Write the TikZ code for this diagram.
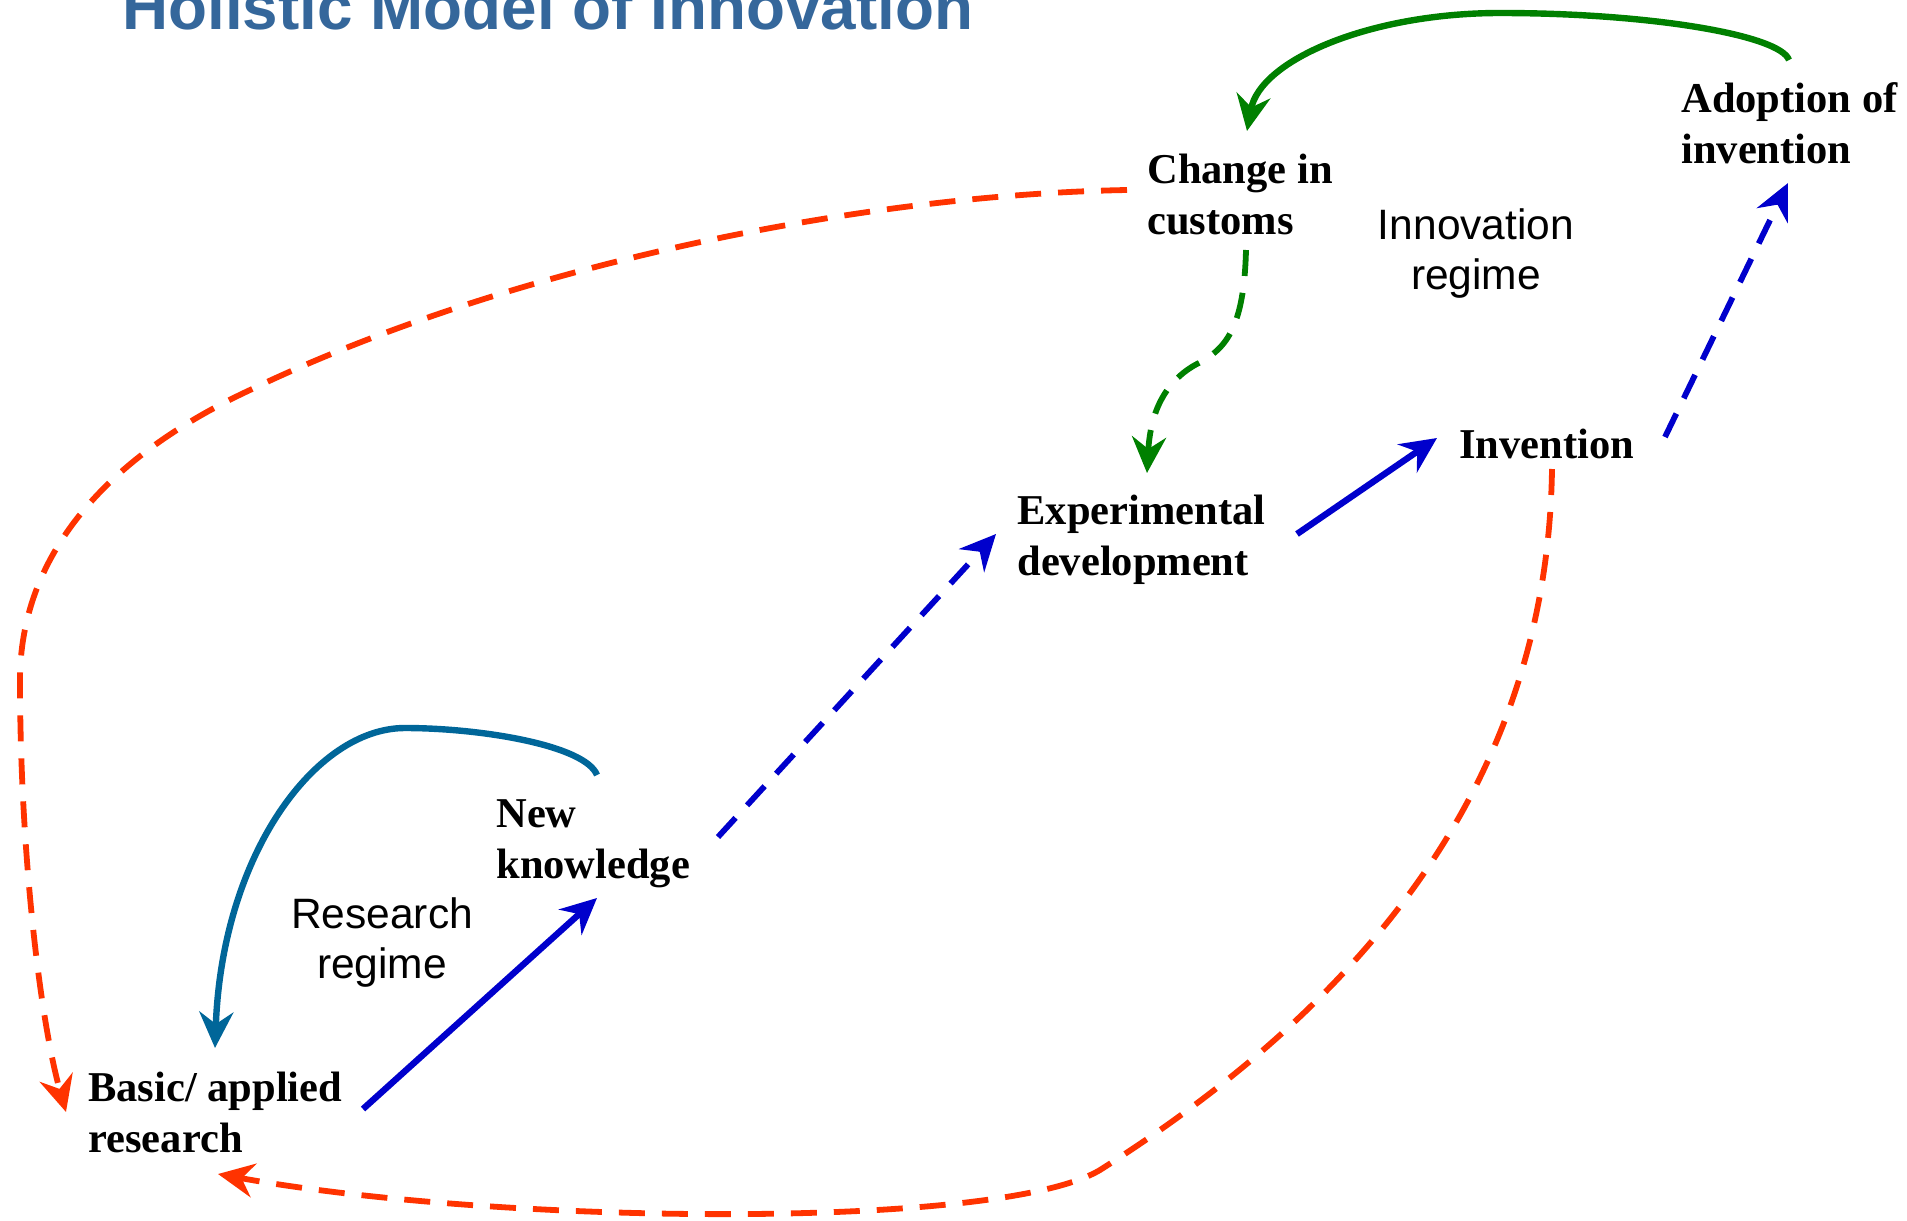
\documentclass[tikz,border=0pt]{standalone}
\usepackage{fontspec}
\setmainfont{Liberation Serif}
\newfontfamily\sansf{Liberation Sans}
\usetikzlibrary{arrows.meta}
\definecolor{titleblue}{RGB}{53,103,155}
\definecolor{arrblue}{RGB}{0,0,204}
\definecolor{arrgreen}{RGB}{0,128,0}
\definecolor{arrteal}{RGB}{0,102,153}
\definecolor{arrred}{RGB}{255,51,0}
\begin{document}
\begin{tikzpicture}[x=0.5pt,y=-0.5pt,
  lbl/.style={inner sep=0pt, anchor=base west, align=left,
    font=\bfseries\fontsize{21.25}{25.5}\selectfont},
  regimelbl/.style={inner sep=0pt, anchor=base, align=center,
    font=\sansf\fontsize{21.25}{24.75}\selectfont},
  tipstyle/.style={-{Stealth[length=18pt,width=17pt,inset=6pt]}},
  solidarr/.style={tipstyle, line width=3.2pt},
  dasharr/.style={tipstyle, line width=2.9pt, dash pattern=on 13pt off 8.5pt},
]
\useasboundingbox (0,0) rectangle (1907,1221);

\node[inner sep=0pt, anchor=base west, text=titleblue,
  font=\sansf\bfseries\fontsize{31.9}{36}\selectfont] (title) at (122,29) {Holistic Model of Innovation};

% multi-line nodes: base anchor = baseline of the last line
\node[lbl] (chg) at (1147,234) {Change in\\customs};
\node[lbl] (adopt) at (1681,163) {Adoption of\\invention};
\node[lbl] (inv) at (1459,458) {Invention};
\node[lbl] (exp) at (1017,575) {Experimental\\development};
\node[lbl] (newk) at (496,878) {New\\knowledge};
\node[lbl] (basic) at (88,1152) {Basic/ applied\\research};
\node[regimelbl] (innreg) at (1476,289) {Innovation\\regime};
\node[regimelbl] (resreg) at (382,978) {Research\\regime};

% blue chain
\draw[solidarr, arrblue] ([shift={(275,-43)}]basic.base west) -- ([shift={(101,20)}]newk.base west);
\draw[dasharr, arrblue] ([shift={(222,-41)}]newk.base west) -- ([shift={(-21,-41)}]exp.base west);
\draw[solidarr, arrblue] ([shift={(280,-41)}]exp.base west) -- ([shift={(-22,-20)}]inv.base west);
\draw[dasharr, arrblue] ([shift={(206,-21)}]inv.base west) -- ([shift={(107,20)}]adopt.base west);

% green
\draw[solidarr, arrgreen] ([shift={(108,-103)}]adopt.base west)
  .. controls (1780,35) and (1650,13) .. (1500,13)
  .. controls (1370,13) and (1260,60) .. ([shift={(100,-103)}]chg.base west);
\draw[dasharr, arrgreen] ([shift={(99,16)}]chg.base west)
  .. controls (1244,330) and (1225,350) .. (1195,365)
  .. controls (1160,385) and (1150,420) .. ([shift={(130,-102)}]exp.base west);

% teal
\draw[solidarr, arrteal] ([shift={(101,-103)}]newk.base west)
  .. controls (585,745) and (480,728) .. (405,728)
  .. controls (315,728) and (222,855) .. ([shift={(127,-104)}]basic.base west);

% red
\draw[dasharr, arrred] ([shift={(-20,-44)}]chg.base west)
  .. controls (850,195) and (500,270) .. (250,390)
  .. controls (100,460) and (20,560) .. (20,680)
  .. controls (20,850) and (40,1020) .. ([shift={(-22,-40)}]basic.base west);
\draw[dasharr, arrred] ([shift={(93,11)}]inv.base west)
  .. controls (1548,750) and (1400,980) .. (1100,1170)
  .. controls (1000,1230) and (500,1225) .. ([shift={(130,22)}]basic.base west);
\end{tikzpicture}
\end{document}
